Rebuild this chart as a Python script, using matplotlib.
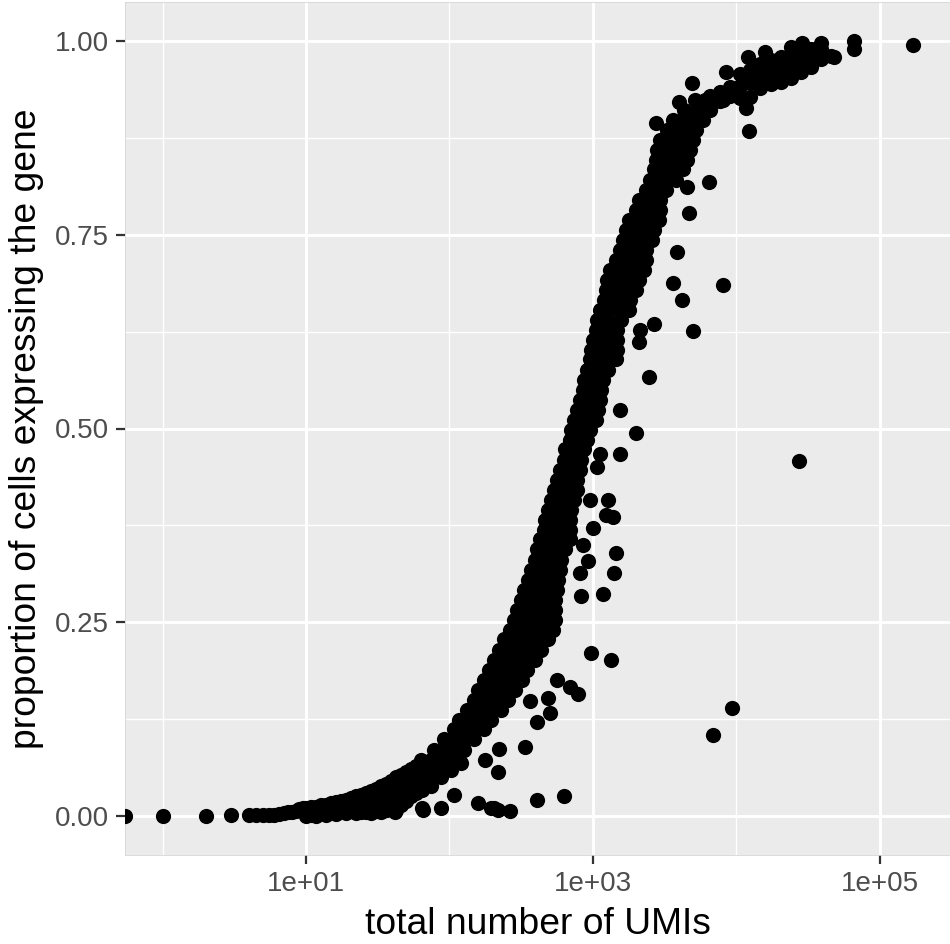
import numpy as np
import matplotlib
matplotlib.use('Agg')
import matplotlib.pyplot as plt
from matplotlib.ticker import FixedLocator, NullFormatter

plt.rcParams['font.family'] = ['Liberation Sans', 'DejaVu Sans']

# genes with zero UMIs (drawn at the left panel edge, like ggplot's -Inf)
zero_umi_prop = [0.0]

# single low-count genes: log10(total UMIs), proportion
low_log_umi = [0.0, 0.301, 0.477, 0.602, 0.653, 0.699, 0.740, 0.778, 0.812, 0.845,
               0.875, 0.903, 0.929, 0.954, 0.978]
low_prop = [0.0, 0.0, 0.001, 0.001, 0.002, 0.001, 0.002, 0.002, 0.003, 0.004,
            0.005, 0.006, 0.007, 0.009, 0.010]

# low part of the cloud, read column by column: (log10 UMIs, [proportions])
low_cols = [
    (1.000, [0.000, 0.011]),
    (1.035, [0.002, 0.012]),
    (1.070, [0.000, 0.012]),
    (1.105, [0.004, 0.014]),
    (1.140, [0.002, 0.015]),
    (1.175, [0.006, 0.017]),
    (1.209, [0.003, 0.018]),
    (1.244, [0.007, 0.020]),
    (1.279, [0.004, 0.021]),
    (1.314, [0.008, 0.023]),
    (1.349, [0.004, 0.014, 0.026]),
    (1.384, [0.006, 0.018, 0.028]),
    (1.419, [0.005, 0.018, 0.030]),
    (1.453, [0.004, 0.020, 0.033]),
    (1.488, [0.007, 0.021, 0.035]),
    (1.523, [0.006, 0.024, 0.039]),
    (1.558, [0.008, 0.022, 0.042]),
    (1.593, [0.010, 0.030, 0.046]),
    (1.628, [0.008, 0.025, 0.038, 0.050]),
    (1.663, [0.015, 0.032, 0.053]),
    (1.698, [0.020, 0.034, 0.046, 0.057]),
    (1.733, [0.026, 0.038, 0.050, 0.061]),
    (1.768, [0.030, 0.042, 0.054, 0.065]),
    (1.81, [0.034, 0.047, 0.060, 0.069]),
    (1.87, [0.039, 0.052, 0.066]),
    (1.94, [0.050, 0.061]),
    (2.01, [0.060, 0.068]),
    (2.08, [0.068]),
]

# steep part of the cloud, read row by row: (proportion, [log10 UMIs])
band_rows = [
    (0.073, [1.80, 1.87, 1.94, 2.01, 2.06]),
    (0.086, [1.89, 1.96, 2.03, 2.10]),
    (0.099, [1.96, 2.03, 2.10, 2.17]),
    (0.112, [2.03, 2.10, 2.17, 2.24]),
    (0.124, [2.07, 2.14, 2.21, 2.29]),
    (0.137, [2.12, 2.20, 2.28, 2.36]),
    (0.150, [2.17, 2.25, 2.34, 2.41]),
    (0.163, [2.20, 2.27, 2.33, 2.40, 2.46]),
    (0.176, [2.24, 2.31, 2.38, 2.45, 2.51]),
    (0.189, [2.28, 2.34, 2.41, 2.48, 2.54]),
    (0.202, [2.31, 2.38, 2.45, 2.53, 2.60]),
    (0.215, [2.35, 2.42, 2.49, 2.57, 2.64]),
    (0.228, [2.38, 2.46, 2.54, 2.61, 2.69]),
    (0.240, [2.42, 2.49, 2.57, 2.65, 2.72]),
    (0.253, [2.45, 2.53, 2.60, 2.67, 2.74]),
    (0.266, [2.47, 2.54, 2.61, 2.67, 2.74]),
    (0.279, [2.50, 2.58, 2.67, 2.74]),
    (0.292, [2.52, 2.60, 2.67, 2.75]),
    (0.305, [2.55, 2.62, 2.69, 2.76]),
    (0.318, [2.57, 2.64, 2.70, 2.77]),
    (0.331, [2.60, 2.66, 2.72, 2.78]),
    (0.344, [2.61, 2.67, 2.74, 2.81]),
    (0.357, [2.63, 2.70, 2.77, 2.84]),
    (0.369, [2.66, 2.72, 2.78, 2.84]),
    (0.382, [2.67, 2.72, 2.79, 2.84]),
    (0.395, [2.69, 2.74, 2.80, 2.85]),
    (0.408, [2.71, 2.77, 2.82, 2.87]),
    (0.421, [2.73, 2.78, 2.84, 2.89]),
    (0.434, [2.75, 2.82, 2.89]),
    (0.447, [2.77, 2.84, 2.91]),
    (0.460, [2.80, 2.86, 2.92]),
    (0.473, [2.81, 2.88, 2.94]),
    (0.485, [2.84, 2.90, 2.96]),
    (0.498, [2.85, 2.91, 2.98]),
    (0.511, [2.87, 2.95, 3.02]),
    (0.524, [2.89, 2.96, 3.04]),
    (0.537, [2.91, 2.98, 3.05]),
    (0.550, [2.93, 3.00, 3.06]),
    (0.563, [2.94, 3.01, 3.07]),
    (0.576, [2.96, 3.03, 3.11]),
    (0.589, [2.98, 3.04, 3.10, 3.16]),
    (0.601, [2.99, 3.05, 3.11, 3.17]),
    (0.614, [3.00, 3.06, 3.11, 3.17]),
    (0.627, [3.02, 3.09, 3.17]),
    (0.640, [3.03, 3.11, 3.20]),
    (0.653, [3.05, 3.11, 3.18, 3.25]),
    (0.666, [3.08, 3.14, 3.20, 3.26]),
    (0.679, [3.09, 3.16, 3.23, 3.30]),
    (0.692, [3.10, 3.17, 3.25, 3.32]),
    (0.705, [3.12, 3.20, 3.28, 3.36]),
    (0.717, [3.16, 3.23, 3.30, 3.37]),
    (0.730, [3.19, 3.25, 3.31, 3.37]),
    (0.743, [3.21, 3.27, 3.34, 3.41]),
    (0.756, [3.23, 3.30, 3.37, 3.43]),
    (0.769, [3.25, 3.32, 3.39, 3.46]),
    (0.782, [3.30, 3.35, 3.41, 3.47]),
    (0.795, [3.32, 3.40, 3.47]),
    (0.808, [3.37, 3.44, 3.51]),
    (0.821, [3.40, 3.46, 3.52, 3.58]),
    (0.834, [3.43, 3.50, 3.56, 3.63]),
    (0.846, [3.44, 3.51, 3.59, 3.66]),
    (0.859, [3.45, 3.53, 3.60, 3.68]),
    (0.872, [3.47, 3.55, 3.62, 3.70]),
    (0.885, [3.52, 3.59, 3.65, 3.72]),
    (0.898, [3.56, 3.62, 3.70, 3.77]),
    (0.911, [3.64, 3.73, 3.82]),
    (0.924, [3.71, 3.78, 3.85, 3.91]),
]

# flat top of the cloud, read column by column: (log10 UMIs, [proportions])
top_cols = [
    (3.82, [0.929, 0.912]),
    (3.89, [0.934, 0.922]),
    (3.96, [0.940, 0.929]),
    (4.03, [0.957, 0.942, 0.926]),
    (4.10, [0.962, 0.945, 0.928]),
    (4.17, [0.970, 0.955, 0.939]),
    (4.24, [0.975, 0.960, 0.944]),
    (4.31, [0.979, 0.963, 0.947]),
    (4.38, [0.984, 0.969, 0.952]),
    (4.45, [0.988, 0.974, 0.960]),
    (4.52, [0.990, 0.978, 0.966]),
    (4.59, [0.990, 0.976]),
    (4.66, [0.981]),
]

# genes lying away from the main cloud
out_log_umi = [3.69, 3.93, 4.08, 4.20, 4.38, 4.46, 4.59, 4.82, 4.82, 4.68, 5.23, 3.60, 3.44,
               4.09, 4.07, 3.81, 3.66, 3.67, 3.59, 3.56, 3.91, 3.62, 3.43, 3.33, 3.32, 3.70, 3.39,
               3.19, 3.30, 3.19, 3.05, 3.03, 2.98, 3.11, 3.14, 3.09, 3.00, 2.93, 3.16, 2.97, 3.15,
               2.91, 2.92, 3.07, 2.99, 3.13, 2.75, 2.84, 2.90, 2.69, 2.56, 2.70, 2.61, 2.53, 2.35,
               2.34, 2.25, 2.03, 2.20, 2.31, 2.42, 2.61, 2.80, 1.94, 1.82, 1.56, 1.62, 1.81, 2.29,
               2.34, 3.84, 3.97, 4.44]
out_prop = [0.945, 0.960, 0.979, 0.985, 0.992, 0.997, 0.997, 1.000, 0.990, 0.979, 0.994, 0.921, 0.894,
            0.884, 0.913, 0.818, 0.812, 0.778, 0.727, 0.688, 0.685, 0.666, 0.635, 0.627, 0.612, 0.626, 0.567,
            0.524, 0.494, 0.467, 0.467, 0.450, 0.408, 0.408, 0.386, 0.389, 0.372, 0.350, 0.340, 0.329, 0.314,
            0.314, 0.284, 0.286, 0.210, 0.202, 0.176, 0.167, 0.157, 0.153, 0.148, 0.133, 0.122, 0.089, 0.087,
            0.057, 0.073, 0.028, 0.017, 0.010, 0.007, 0.021, 0.026, 0.011, 0.008, 0.008, 0.006, 0.010, 0.010,
            0.008, 0.105, 0.139, 0.458]

# collect everything
lx = list(low_log_umi)
py = list(low_prop)
for v, ys in low_cols:
    lx += [v] * len(ys)
    py += ys
for yv, xs in band_rows:
    lx += xs
    py += [yv] * len(xs)
for v, ys in top_cols:
    lx += [v] * len(ys)
    py += ys
lx += out_log_umi
py += out_prop
lx = np.array(lx)
py = np.array(py)

# ggplot-like 5% expansion of the log scale
lo, hi = lx.min(), lx.max()
pad = 0.05 * (hi - lo)
xmin, xmax = 10 ** (lo - pad), 10 ** (hi + pad)

fig = plt.figure(figsize=(9.5, 9.44), dpi=100)
ax = fig.add_axes([125 / 950, 89 / 944, 825 / 950, 853 / 944])
ax.set_facecolor('#EBEBEB')

ax.scatter(10 ** lx, py, s=120, c='black', linewidths=0, zorder=3)
ax.scatter([xmin] * len(zero_umi_prop), zero_umi_prop, s=120, c='black', linewidths=0, zorder=3)

ax.set_xscale('log')
ax.set_xlim(xmin, xmax)
ax.set_ylim(-0.05, 1.05)

ax.xaxis.set_major_locator(FixedLocator([1e1, 1e3, 1e5]))
ax.set_xticklabels(['1e+01', '1e+03', '1e+05'])
ax.xaxis.set_minor_locator(FixedLocator([1e0, 1e2, 1e4]))
ax.xaxis.set_minor_formatter(NullFormatter())
ax.set_yticks([0, 0.25, 0.5, 0.75, 1.0])
ax.set_yticklabels(['0.00', '0.25', '0.50', '0.75', '1.00'])
ax.yaxis.set_minor_locator(FixedLocator([0.125, 0.375, 0.625, 0.875]))

ax.set_axisbelow(True)
ax.grid(which='major', color='white', linewidth=2.1)
ax.grid(which='minor', color='white', linewidth=1.0)

ax.tick_params(which='major', length=6.5, width=1.6, color='#333333',
               labelsize=20, labelcolor='#4D4D4D', pad=5)
ax.tick_params(which='minor', length=0)

for s in ax.spines.values():
    s.set_color('#D6D6D6')
    s.set_linewidth(0.6)

ax.set_xlabel('total number of UMIs', fontsize=26.8, labelpad=7)
ax.set_ylabel('proportion of cells expressing the gene', fontsize=26.8, labelpad=8)

plt.savefig('out.png', dpi=100)
